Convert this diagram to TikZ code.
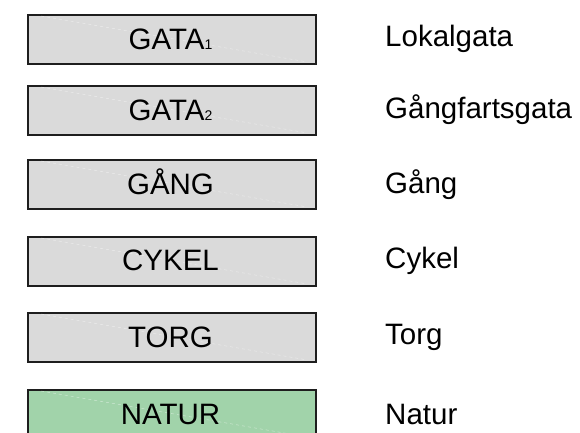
\documentclass[tikz,border=0pt]{standalone}
\usepackage{fontspec}
\setmainfont{Liberation Sans}
\definecolor{boxgray}{RGB}{218,218,218}
\definecolor{boxgreen}{RGB}{161,211,170}
\definecolor{edgec}{RGB}{30,30,30}
\newcommand{\subd}[1]{{\fontsize{14}{14}\selectfont #1}}
\tikzset{
  catbox/.style={draw=edgec, line width=1.5pt, fill=boxgray, minimum width=288pt, minimum height=49pt, inner sep=0pt, anchor=north west},
  greenbox/.style={catbox, fill=boxgreen},
  boxtext/.style={font=\fontsize{29.5}{30}\selectfont, anchor=base, inner sep=0pt},
  labtext/.style={font=\fontsize{29.5}{30}\selectfont, anchor=base west, inner sep=0pt},
  glint/.style={draw=white, opacity=0.45, dashed, line width=0.5pt}
}
\begin{document}
\begin{tikzpicture}[x=1pt,y=-1pt]
\useasboundingbox (0,0) rectangle (580,432);
\clip (0,0) rectangle (580,432);
% boxes
\node[catbox] (b1) at (27,14) {};
\node[catbox] (b2) at (27,85) {};
\node[catbox] (b3) at (27,159) {};
\node[catbox] (b4) at (27,236) {};
\node[catbox] (b5) at (27,312) {};
\node[greenbox] (b6) at (27,389) {};
% faint glints
\foreach \b in {b1,b2,b3,b4,b5,b6}{
  \draw[glint] ([xshift=14pt,yshift=-2pt]\b.north west) -- ([xshift=-12pt,yshift=3pt]\b.south east);
}
% box texts
\node[boxtext] (t1) at (170.5,49) {GATA\subd{1}};
\node[boxtext] (t2) at (170.5,120.5) {GATA\subd{2}};
\node[boxtext] (t3) at (170.5,194) {GÅNG};
\node[boxtext] (t4) at (170.5,270.5) {CYKEL};
\node[boxtext] (t5) at (170.5,347) {TORG};
\node[boxtext] (t6) at (170.5,424) {NATUR};
% labels
\node[labtext] (l1) at (385,46) {Lokalgata};
\node[labtext] (l2) at (385,118) {Gångfartsgata};
\node[labtext] (l3) at (385,193) {Gång};
\node[labtext] (l4) at (385,268) {Cykel};
\node[labtext] (l5) at (385,344) {Torg};
\node[labtext] (l6) at (385,424) {Natur};
\end{tikzpicture}
\end{document}
